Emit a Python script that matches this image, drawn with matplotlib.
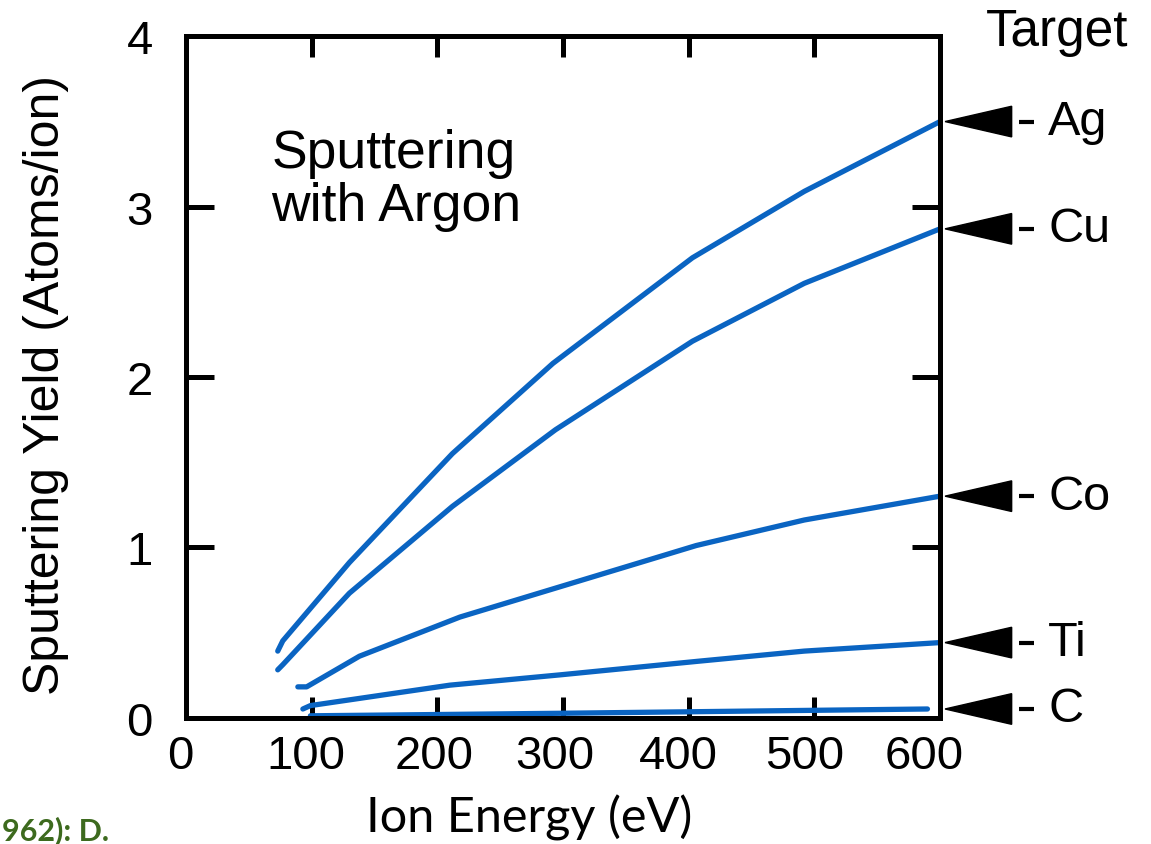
import matplotlib
matplotlib.use("Agg")
import matplotlib.pyplot as plt
import matplotlib.transforms as mtransforms
from matplotlib.patches import Polygon

plt.rcParams['font.family'] = ['Liberation Sans', 'DejaVu Sans']

# sputtering yield vs. argon ion energy, one curve per target
energy_ag = [73, 77, 130, 212, 292, 403, 492, 600]
yield_ag = [0.39, 0.45, 0.91, 1.55, 2.08, 2.70, 3.09, 3.50]

energy_cu = [73, 77, 130, 212, 294, 403, 492, 600]
yield_cu = [0.28, 0.31, 0.73, 1.24, 1.69, 2.21, 2.55, 2.87]

energy_co = [89, 96, 138, 218, 406, 492, 600]
yield_co = [0.18, 0.18, 0.36, 0.59, 1.01, 1.16, 1.30]

energy_ti = [93, 99, 210, 297, 407, 492, 600]
yield_ti = [0.05, 0.07, 0.19, 0.25, 0.33, 0.39, 0.44]

energy_c = [99, 300, 590]
yield_c = [0.01, 0.025, 0.05]

targets = ['Ag', 'Cu', 'Co', 'Ti', 'C']
series = [(energy_ag, yield_ag), (energy_cu, yield_cu), (energy_co, yield_co),
          (energy_ti, yield_ti), (energy_c, yield_c)]

blue = '#0A64C2'

fig = plt.figure(figsize=(11.51, 8.45), dpi=100)
ax = fig.add_axes([0.1616, 0.1497, 0.6551, 0.806])

for x, y in series:
    ax.plot(x, y, color=blue, lw=3.8, solid_capstyle='round', solid_joinstyle='round')

ax.set_xlim(0, 600)
ax.set_ylim(0, 4)
ax.set_xticks(range(0, 601, 100))
ax.set_yticks(range(0, 5))
for s in ax.spines.values():
    s.set_linewidth(3.6)
ax.tick_params(axis='both', which='both', direction='in', top=True, right=True,
               width=3.6, labelsize=34)
ax.tick_params(axis='y', length=20, pad=24)
ax.tick_params(axis='x', length=15, pad=12)

# x labels sit a little left of their ticks
shifts = [-6, -6, -3, -8, -10, -10, -16]
for lab, dx in zip(ax.get_xticklabels(), shifts):
    lab.set_transform(lab.get_transform() +
                      mtransforms.ScaledTranslation(dx / 100, 0, fig.dpi_scale_trans))

ax.set_ylabel('Sputtering Yield (Atoms/ion)', fontsize=36)
ax.yaxis.set_label_coords(-0.155, 0.49)
ax.set_xlabel('Ion Energy (eV)', fontsize=35, family=['Lato', 'DejaVu Sans'])
ax.xaxis.set_label_coords(0.455, -0.112)

ax.text(68, 3.16, 'Sputtering\nwith Argon', fontsize=38.5, va='center', ha='left',
        linespacing=1.08)

# pointers and names of the targets on the right
for name, (x, y) in zip(targets, series):
    yt = y[-1]
    tri = Polygon([[604, yt], [657, yt + 0.09], [657, yt - 0.09]], closed=True,
                  color='black', clip_on=False)
    ax.add_patch(tri)
    ax.plot([663, 675], [yt, yt], color='black', lw=3, clip_on=False,
            solid_capstyle='butt')
    ax.text(686, yt, name, fontsize=35, va='center', ha='left')

ax.text(693, 4.03, 'Target', fontsize=37, va='center', ha='center')

fig.text(0.002, 0.0, '962): D.', fontsize=22, fontweight='bold', color='#3D6A1E',
         family=['Lato', 'DejaVu Sans'], va='bottom', ha='left')

fig.savefig('out.png', dpi=100)
